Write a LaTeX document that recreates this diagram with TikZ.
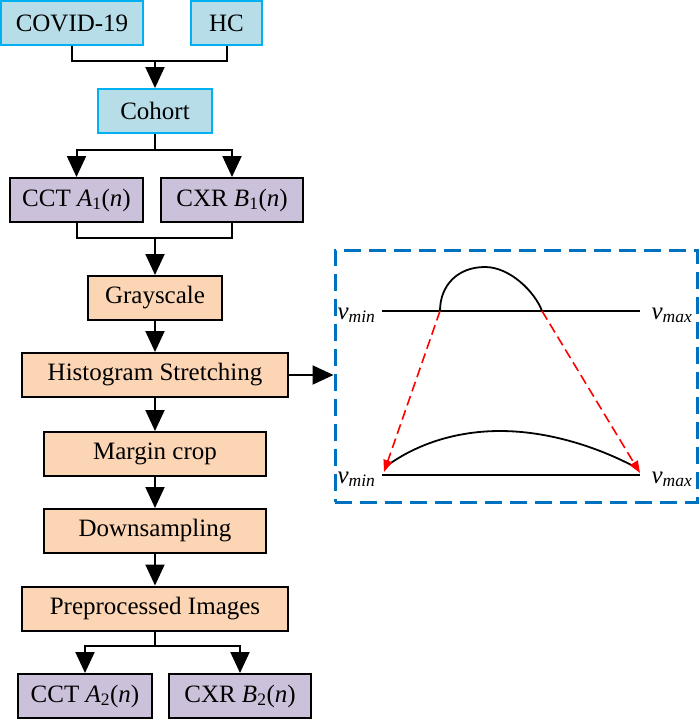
\documentclass[tikz,border=0pt]{standalone}
\usepackage{fontspec}
\setmainfont{Liberation Serif}
\usepackage{tikz}
\usetikzlibrary{arrows.meta}
\definecolor{aqua}{HTML}{B7DEE8}
\definecolor{aqualine}{HTML}{00B0F0}
\definecolor{lilac}{HTML}{CCC1DA}
\definecolor{peach}{HTML}{FCD5B5}
\definecolor{panelblue}{HTML}{0070C0}
\begin{document}
\begin{tikzpicture}[x=1pt,y=-1pt,
  font=\fontsize{25}{30}\selectfont,
  box/.style={draw=black,line width=2pt,inner sep=0pt,minimum height=44pt},
  inbox/.style={box,draw=aqualine,fill=aqua},
  datbox/.style={box,fill=lilac},
  procbox/.style={box,fill=peach},
  arr/.style={line width=2pt,-{Triangle[width=19pt,length=21pt]}},
  redarr/.style={red,line width=1.6pt,dash pattern=on 10pt off 5pt,-{Triangle[width=9pt,length=12pt]}}]
\useasboundingbox (0,0) rectangle (699,720);

\node[inbox,minimum width=142pt] (covid) at (72,23) {COVID-19};
\node[inbox,minimum width=71pt] (hc) at (226.5,23) {HC};
\node[inbox,minimum width=114pt] (cohort) at (155,111) {Cohort};
\node[datbox,minimum width=133pt] (cct1) at (76.5,200) {CCT \textit{A}\textsubscript{1}(\textit{n})};
\node[datbox,minimum width=142pt] (cxr1) at (232,200) {CXR \textit{B}\textsubscript{1}(\textit{n})};
\node[procbox,minimum width=134pt] (gray) at (155,298) {Grayscale};
\node[procbox,minimum width=266pt] (hist) at (155,375) {Histogram Stretching};
\node[procbox,minimum width=222pt] (crop) at (155,454) {Margin crop};
\node[procbox,minimum width=222pt] (down) at (155,531) {Downsampling};
\node[procbox,minimum width=266pt] (prep) at (155,608.5) {Preprocessed Images};
\node[datbox,minimum width=134pt] (cct2) at (85,696) {CCT \textit{A}\textsubscript{2}(\textit{n})};
\node[datbox,minimum width=142pt] (cxr2) at (240,696) {CXR \textit{B}\textsubscript{2}(\textit{n})};

\coordinate (j1) at (155,61);
\coordinate (f1) at (155,150);
\coordinate (j2) at (155,238);
\coordinate (f2) at (155,646);

\draw[line width=2pt] (covid.south) |- (j1) -| (hc.south);
\draw[arr] (j1) -- (cohort.north);
\draw[line width=2pt] (cohort.south) -- (f1);
\draw[arr] (f1) -| (cct1.north);
\draw[arr] (f1) -| (cxr1.north);
\draw[line width=2pt] (cct1.south) |- (j2) -| (cxr1.south);
\draw[arr] (j2) -- (gray.north);
\draw[arr] (gray) -- (hist);
\draw[arr] (hist) -- (crop);
\draw[arr] (crop) -- (down);
\draw[arr] (down) -- (prep);
\draw[line width=2pt] (prep.south) -- (f2);
\draw[arr] (f2) -| (cct2.north);
\draw[arr] (f2) -| (cxr2.north);

% stretching panel
\node[draw=panelblue,line width=3pt,dash pattern=on 17pt off 8pt,
  minimum width=362pt,minimum height=252pt,inner sep=0pt] (panel) at (516,376) {};
\draw[arr] (hist.east) -- (panel.west |- hist.east);

\coordinate (tl) at (382,311);
\coordinate (tr) at (640,311);
\coordinate (bl) at (382,475);
\coordinate (br) at (640,475);
\coordinate (ha) at (440,311);
\coordinate (hb) at (542,311);
\draw[line width=1.8pt] (tl) -- (tr);
\draw[line width=1.8pt] (bl) -- (br);
\draw[line width=1.8pt] (ha) .. controls (440,285) and (458,267) .. (485,267)
  .. controls (510,267) and (535,292) .. (hb);
\draw[line width=1.8pt] (388,465) .. controls (420,442) and (460,431) .. (500,431)
  .. controls (550,431) and (600,448) .. (637,468);
\draw[redarr] (ha) -- (384,472);
\draw[redarr] (hb) -- (640,473);

\node[anchor=base east] (vmin1) at (379,319) {\textit{v}\textsubscript{\textit{min}}};
\node[anchor=base west] (vmax1) at (648,319) {\textit{v}\textsubscript{\textit{max}}};
\node[anchor=base east] (vmin2) at (379,483) {\textit{v}\textsubscript{\textit{min}}};
\node[anchor=base west] (vmax2) at (648,483) {\textit{v}\textsubscript{\textit{max}}};
\end{tikzpicture}
\end{document}
